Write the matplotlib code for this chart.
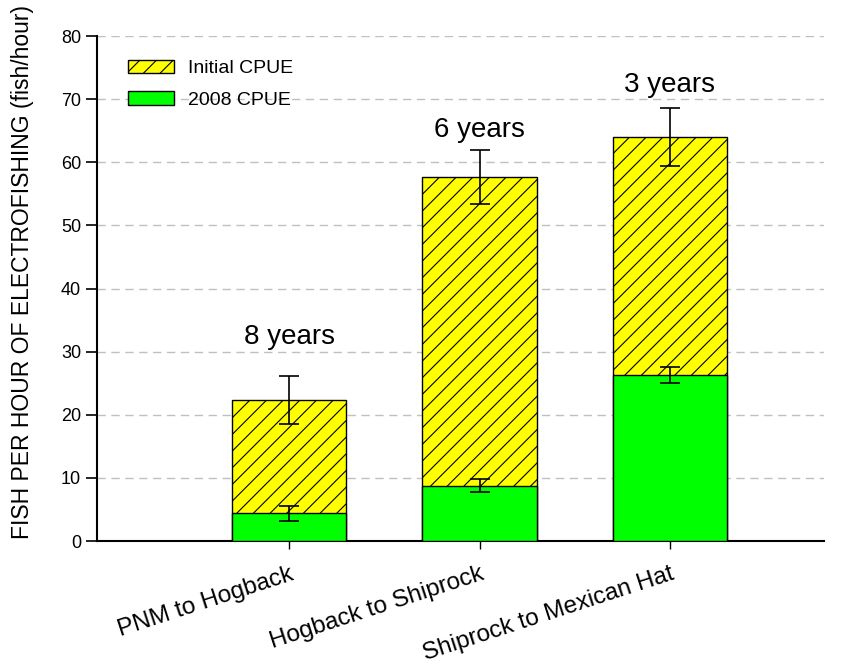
import numpy as np
from matplotlib import pyplot as plt

plt.rcParams['font.family'] = ['Liberation Sans', 'DejaVu Sans']
plt.rcParams['hatch.linewidth'] = 0.8

reaches = ["PNM to Hogback", "Hogback to Shiprock", "Shiprock to Mexican Hat"]
initial_cpue = [22.3, 57.7, 64.0]
initial_err = [3.8, 4.3, 4.6]
cpue_2008 = [4.4, 8.8, 26.3]
err_2008 = [1.2, 1.0, 1.3]
years = ["8 years", "6 years", "3 years"]
years_y = [32.3, 65.1, 72.3]

x = np.arange(1, len(reaches) + 1)

fig = plt.figure(figsize=(8.54, 6.68), dpi=100)
ax = fig.add_axes([0.1136, 0.19, 0.8514, 0.756])

# initial CPUE drawn full height behind, 2008 CPUE in front
ax.bar(x, initial_cpue, width=0.6, color='#ffff00', edgecolor='black',
       hatch='//', linewidth=1, label="Initial CPUE", zorder=2)
ax.bar(x, cpue_2008, width=0.6, color='#00ff00', edgecolor='black',
       linewidth=1, label="2008 CPUE", zorder=3)
ax.errorbar(x, initial_cpue, yerr=initial_err, fmt='none', ecolor='black',
            elinewidth=1.2, capsize=7, capthick=1.2, zorder=4)
ax.errorbar(x, cpue_2008, yerr=err_2008, fmt='none', ecolor='black',
            elinewidth=1.2, capsize=7, capthick=1.2, zorder=4)

for xi, yy, lab in zip(x, years_y, years):
    ax.text(xi, yy, lab, ha='center', va='center', fontsize=20)

ax.set_xlim(-0.01, 3.81)
ax.set_ylim(0, 80)
ax.set_yticks(np.arange(0, 81, 10))
ax.set_xticks(x)
ax.set_xticklabels(reaches, rotation=18, ha='right', va='top',
                   rotation_mode='anchor', fontsize=17.5)
ax.tick_params(axis='y', labelsize=13, direction='out', length=8, width=1.2)
ax.tick_params(axis='x', direction='out', length=6, width=1, pad=10)
ax.set_ylabel("FISH PER HOUR OF ELECTROFISHING (fish/hour)", fontsize=16.5)
ax.yaxis.set_label_coords(-0.087, 0.533)

ax.yaxis.grid(True, linestyle=(0, (6, 4)), color='#c0c0c0', linewidth=1, zorder=0)
ax.set_axisbelow(True)
ax.spines['top'].set_visible(False)
ax.spines['right'].set_visible(False)
ax.spines['left'].set_linewidth(1.5)
ax.spines['bottom'].set_linewidth(1.5)

ax.legend(loc='upper left', bbox_to_anchor=(0.018, 0.988), frameon=False,
          fontsize=14, handlelength=2.4, handleheight=0.7,
          handletextpad=0.7, labelspacing=0.72)

plt.savefig("out.png", dpi=100)
